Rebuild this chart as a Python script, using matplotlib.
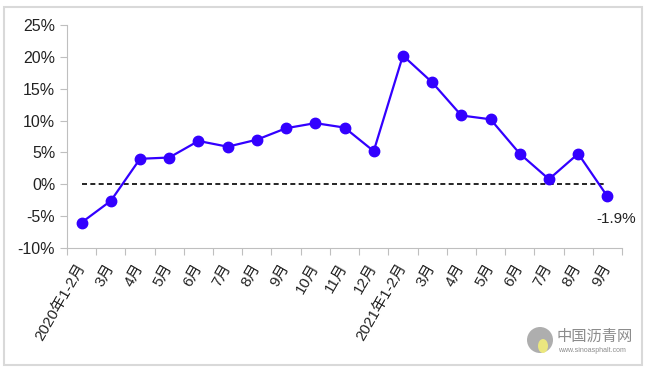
import matplotlib.pyplot as plt
from matplotlib.patches import Rectangle, Ellipse

# ---- data ----
months = ["2020年1-2月", "3月", "4月", "5月", "6月", "7月", "8月", "9月", "10月",
          "11月", "12月", "2021年1-2月", "3月", "4月", "5月", "6月", "7月", "8月", "9月"]
growth = [-6.0, -2.6, 4.0, 4.2, 6.8, 5.9, 7.0, 8.8, 9.6,
          8.9, 5.2, 20.2, 16.0, 10.8, 10.2, 4.8, 0.8, 4.8, -1.9]
last_label = "-1.9%"

fonts = ["Liberation Sans", "Noto Sans CJK SC"]
plt.rcParams["font.family"] = fonts

fig = plt.figure(figsize=(6.47, 3.71), dpi=100)
ax = fig.add_axes([67 / 647, 1 - 248 / 371, 555 / 647, 223 / 371])

x = list(range(len(months)))
ax.plot(x, growth, color="#3300ff", lw=1.6, marker="o", markersize=7.5, zorder=3)
ax.plot([x[0], x[-1]], [0, 0], color="black", lw=1.2, ls=(0, (3, 2)), zorder=2)

ax.set_xlim(-0.5, len(months) - 0.5)
ax.set_ylim(-10, 25)
ax.set_yticks(range(-10, 30, 5))
ax.set_yticklabels([f"{v}%" for v in range(-10, 30, 5)], fontsize=11.5, color="#222222")

# boundary ticks + centered labels
ax.set_xticks([i - 0.5 for i in range(len(months) + 1)])
ax.set_xticklabels([])
ax.set_xticks(x, minor=True)
ax.set_xticklabels(months, minor=True, rotation=60, ha="right", va="center",
                   rotation_mode="anchor", fontsize=11, color="#222222")
ax.tick_params(axis="x", which="minor", length=0, pad=12)
ax.tick_params(axis="x", which="major", length=5, color="#bfbfbf", direction="out")
ax.tick_params(axis="y", length=5, color="#bfbfbf", direction="out")

for s in ["top", "right"]:
    ax.spines[s].set_visible(False)
for s in ["left", "bottom"]:
    ax.spines[s].set_color("#bfbfbf")

ax.annotate(last_label, (x[-1], growth[-1]), xytext=(6, -16), textcoords="offset points",
            ha="center", va="center", fontsize=11, color="#222222")

# outer frame
fig.patches.append(Rectangle((4 / 647, 6 / 371), 638 / 647, 358 / 371, transform=fig.transFigure,
                             fill=False, edgecolor="#d9d9d9", lw=1.5))

# watermark
fig.patches.append(Ellipse((540 / 647, 1 - 340 / 371), 26 / 647, 26 / 371, transform=fig.transFigure,
                           facecolor="#9a9a9a", edgecolor="none", alpha=0.8))
fig.patches.append(Ellipse((543 / 647, 1 - 346 / 371), 10 / 647, 14 / 371, transform=fig.transFigure,
                           facecolor="#f2ee7a", edgecolor="none", alpha=0.9))
fig.text(557 / 647, 1 - 337 / 371, "中国沥青网", fontsize=11, color="#8c8c8c",
         family=fonts, va="center")
fig.text(558 / 647, 1 - 351 / 371, "www.sinoasphalt.com", fontsize=5, color="#8c8c8c", va="center")

fig.savefig("out.png", dpi=100)
